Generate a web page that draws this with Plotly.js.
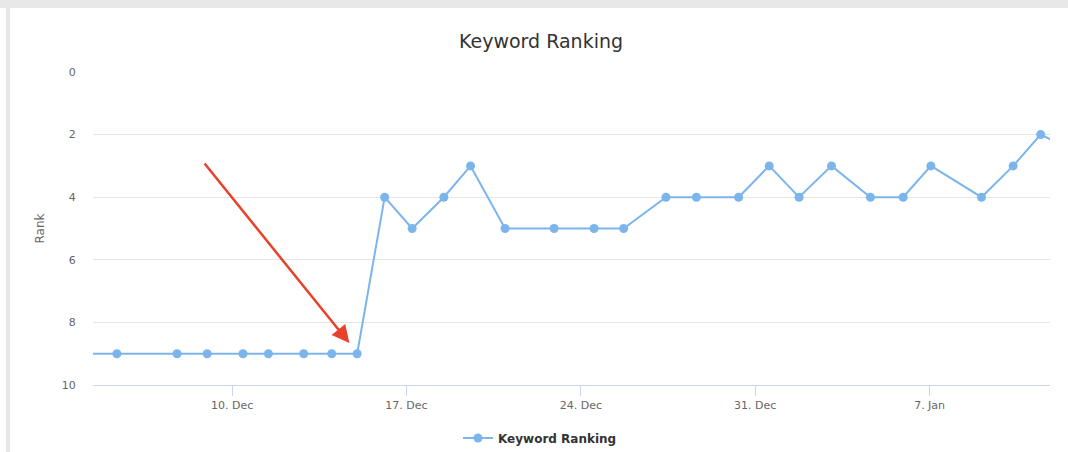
<!DOCTYPE html>
<html>
<head>
<meta charset="utf-8">
<script src="https://cdn.plot.ly/plotly-3.0.1.min.js"></script>
<style>html,body{margin:0;padding:0;background:#fff;}#chart{width:1068px;height:452px;}</style>
</head>
<body>
<div id="chart"></div>
<script>
const dates = [
  '2017-12-03 12:00','2017-12-05 09:00','2017-12-07 19:00','2017-12-09 00:00','2017-12-10 10:30',
  '2017-12-11 11:00','2017-12-12 21:00','2017-12-14 00:00','2017-12-15 00:30','2017-12-16 03:00',
  '2017-12-17 05:30','2017-12-18 12:00','2017-12-19 13:45','2017-12-20 23:00','2017-12-22 22:15',
  '2017-12-24 12:45','2017-12-25 17:15','2017-12-27 10:00','2017-12-28 15:20','2017-12-30 08:00',
  '2017-12-31 13:30','2018-01-01 18:15','2018-01-03 01:30','2018-01-04 15:00','2018-01-05 22:30',
  '2018-01-07 01:15','2018-01-09 02:00','2018-01-10 08:30','2018-01-11 11:00','2018-01-14 00:00'
];
const ranks = [9,9,9,9,9, 9,9,9,9,4, 5,4,3,5,5, 5,5,4,4,4, 3,4,3,4,4, 3,4,3,2,3];
const tickDates = ['2017-12-10','2017-12-17','2017-12-24','2017-12-31','2018-01-07'];
const yTicks = [0,2,4,6,8,10];
const seriesName = 'Keyword Ranking';

const font = 'DejaVu Sans, Arial, sans-serif';
const L = 93, R = 1050, T = 72, B = 385;
const px = v => (v - L) / (R - L);
const py = v => (B - v) / (B - T);

const trace = {
  x: dates, y: ranks, type: 'scatter', mode: 'lines+markers', name: seriesName,
  line: {color: '#7cb5ec', width: 2},
  marker: {color: '#7cb5ec', size: 9},
  cliponaxis: true
};

const layout = {
  width: 1068, height: 452,
  margin: {l: L, r: 1068 - R, t: T, b: 452 - B, autoexpand: false},
  paper_bgcolor: '#ffffff', plot_bgcolor: '#ffffff',
  font: {family: font, color: '#666666', size: 11},
  title: {text: 'Keyword Ranking', font: {family: font, size: 19, color: '#333333'},
          x: 541/1068, xref: 'container', xanchor: 'center', y: 1 - 41/452, yref: 'container', yanchor: 'middle'},
  showlegend: true,
  legend: {orientation: 'h', x: px(540), xanchor: 'center', y: py(438), yanchor: 'middle',
           font: {family: font, size: 12, color: '#333333', weight: 'bold'}, itemwidth: 30},
  xaxis: {
    type: 'date', range: ['2017-12-04 10:00', '2018-01-11 20:00'],
    tickvals: tickDates, tickformat: '%-d. %b',
    showgrid: false, zeroline: false,
    showline: true, linecolor: '#ccd6eb', linewidth: 1,
    ticks: 'outside', ticklen: 10, tickcolor: '#ccd6eb', tickwidth: 1,
    tickfont: {family: font, size: 11, color: '#666666'}
  },
  yaxis: {
    range: [10, 0], tickvals: yTicks, showgrid: true, gridcolor: '#e6e6e6', gridwidth: 1,
    zeroline: false, showline: false,
    ticks: 'outside', ticklen: 14, tickcolor: 'rgba(0,0,0,0)',
    tickfont: {family: font, size: 11, color: '#666666'},
    title: {text: 'Rank', font: {family: font, size: 12, color: '#666666'}, standoff: 14}
  },
  shapes: [
    {type: 'rect', xref: 'paper', yref: 'paper', x0: px(0), x1: px(1068), y0: py(8), y1: py(0),
     fillcolor: '#e8e8e8', line: {width: 0}, layer: 'below'},
    {type: 'rect', xref: 'paper', yref: 'paper', x0: px(6), x1: px(10), y0: py(452), y1: py(8),
     fillcolor: '#e8e8e8', line: {width: 0}, layer: 'below'}
  ],
  annotations: [
    {x: '2017-12-14 17:00', y: 8.66, xref: 'x', yref: 'y', text: '', showarrow: true,
     ax: -146, ay: -181, arrowhead: 2, arrowsize: 1.4, arrowwidth: 2.5, arrowcolor: '#e8412c', standoff: 0}
  ]
};

Plotly.newPlot('chart', [trace], layout, {displayModeBar: false, staticPlot: true});
</script>
</body>
</html>
